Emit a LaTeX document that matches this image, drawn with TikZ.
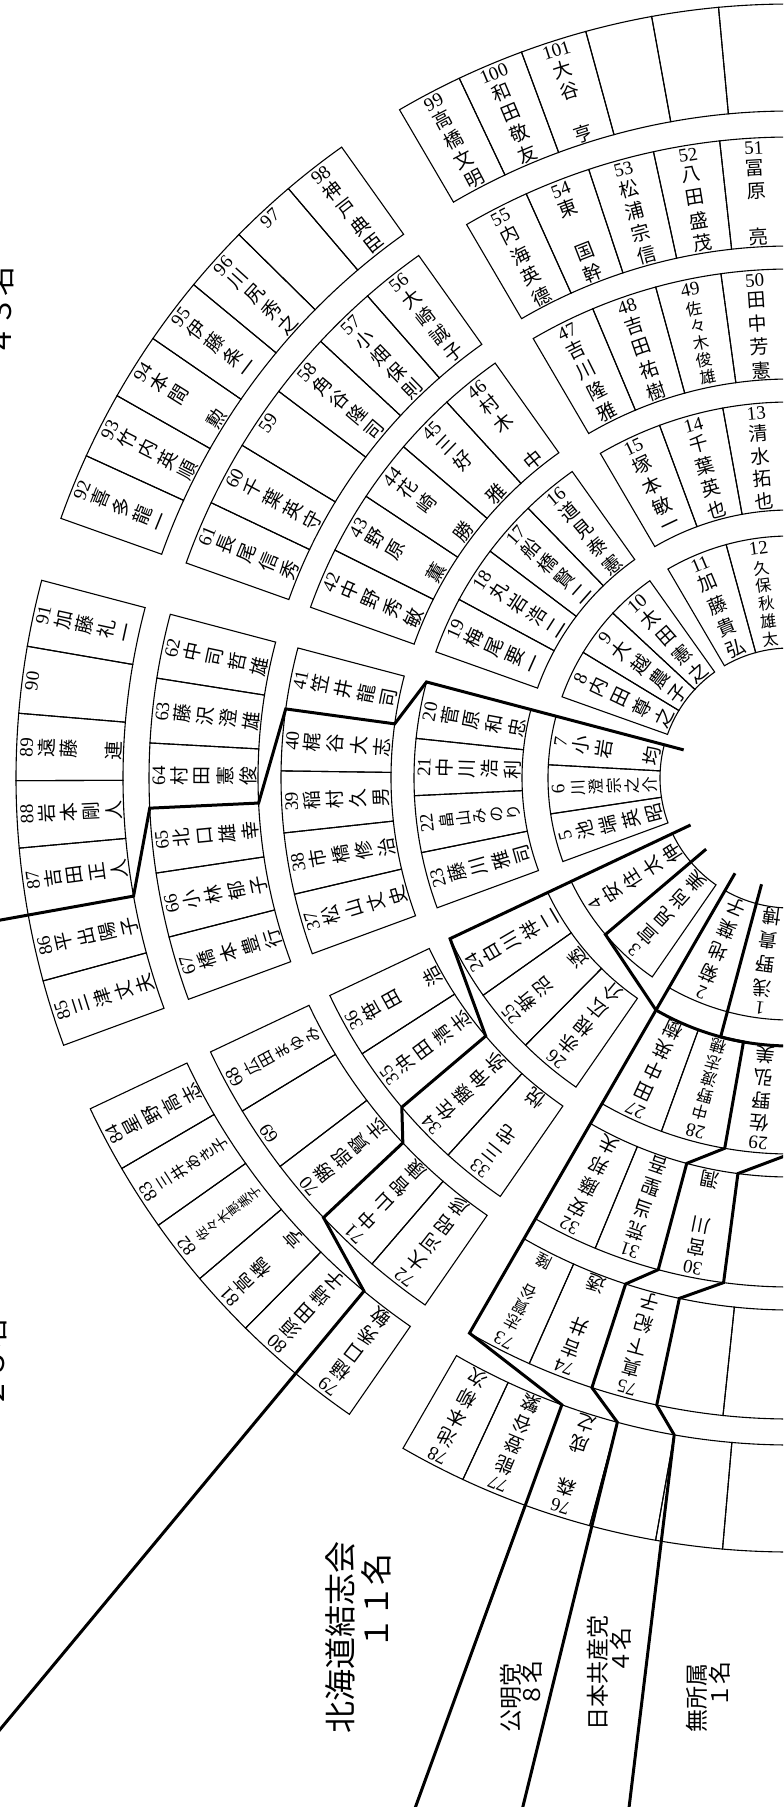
\documentclass[tikz,border=0pt]{standalone}
\usepackage{fontspec}
\usepackage{tikz}
\newfontfamily\jfont{Noto Sans CJK JP}
\newfontfamily\numfont{Liberation Serif}

\makeatletter
\newcount\nchar
\newcount\kchar
\newcommand{\seatname}[4]{%
  \nchar=0
  \@tfor\jch:=#4\do{\advance\nchar by 1}%
  \ifnum\nchar>1 \pgfmathsetmacro\pitch{(#3-#2-40)/(\the\nchar-1)}\else\def\pitch{0}\fi
  \ifnum\nchar>5 \def\jsize{6.6}\else\ifnum\nchar>4 \def\jsize{8}\else\def\jsize{9.5}\fi\fi
  \kchar=0
  \@tfor\jch:=#4\do{%
    \pgfmathsetmacro\rr{#3-30-\the\kchar*\pitch}%
    \node[namechar,rotate=#1-90,font=\jfont\fontsize{\jsize}{\jsize}\selectfont] at (#1:\rr) {\jch};%
    \advance\kchar by 1}%
}
\newcommand{\seatrow}[5]{%
  \foreach \sn/\sm [count=\si from 0] in {#5}{%
    \pgfmathsetmacro\angA{#1-\si*#2}%
    \pgfmathsetmacro\angB{#1-(\si+1)*#2}%
    \pgfmathsetmacro\angM{#1-(\si+0.5)*#2}%
    \pgfmathsetmacro\rNum{#4-10}%
    \draw[seatline] (\angA:#3) arc[start angle=\angA,end angle=\angB,radius=#3*0.5pt]
      -- (\angB:#4) arc[start angle=\angB,end angle=\angA,radius=#4*0.5pt] -- cycle;
    \node[seatno,rotate=\angM-90] (seat\sn) at (\angM:\rNum) {\sn};
    \edef\seatnext{\noexpand\seatname{\angM}{#3}{#4}{\sm}}\seatnext
  }}
\makeatother

\begin{document}
\begin{tikzpicture}[x=0.5pt,y=0.5pt,
  seatline/.style={draw,line width=0.55pt},
  party/.style={line width=1.5pt,line join=miter},
  seatno/.style={font=\numfont\fontsize{9.5}{9.5}\selectfont,inner sep=0pt},
  namechar/.style={inner sep=0pt},
  grouplabel/.style={font=\jfont\fontsize{11.5}{11.5}\selectfont,rotate=90,inner sep=0pt},
  biglabel/.style={font=\jfont\fontsize{16}{16}\selectfont,rotate=90,inner sep=0pt}]
\useasboundingbox (-790,-1029) rectangle (-7,778);
\fill[white] (-790,-1029) rectangle (-7,778);
\clip (-790,-1029) rectangle (-7,778);

\seatrow{120.3}{5}{667}{774}{99/高橋文明,100/和田敬友,101/大谷　亨,{}/{},{}/{},{}/{}}
\seatrow{120.3}{6}{532}{641}{55/内海英德,54/東　国幹,53/松浦宗信,52/八田盛茂,51/冨原　亮}
\seatrow{120.3}{7.5}{399}{509}{47/吉川隆雅,48/吉田祐樹,49/佐々木俊雄,50/田中芳憲}
\seatrow{120.3}{10}{268}{376}{15/塚本敏一,14/千葉英也,13/清水拓也}
\seatrow{120.3}{15}{130}{242}{11/加藤貴弘,12/久保秋雄太}

\seatrow{160.4}{5}{667}{774}{92/喜多龍一,93/竹内英順,94/本間　勲,95/伊藤条一,96/川尻秀之,97/{},98/神戸典臣}
\seatrow{160.4}{5.8333}{532}{641}{61/長尾信秀,60/千葉英守,59/{},58/角谷隆司,57/小畑保則,56/大崎誠子}
\seatrow{160.4}{7}{399}{509}{42/中野秀敏,43/野原　薫,44/花崎　勝,45/三好　雅,46/村木　中}
\seatrow{160.4}{8.75}{268}{376}{19/梅尾要一,18/丸岩浩二,17/船橋賢二,16/道見泰憲}
\seatrow{160.4}{11.6667}{130}{242}{8/内田尊之,9/大越農子,10/太田憲之}

\seatrow{200.2}{5}{667}{774}{85/三津丈夫,86/平出陽子,87/吉田正人,88/岩本剛人,89/遠藤　連,90/{},91/加藤礼一}
\seatrow{200.2}{5.8333}{532}{641}{67/橋本豊行,66/小林郁子,65/北口雄幸,64/村田憲俊,63/藤沢澄雄,62/中司哲雄}
\seatrow{200.2}{7}{399}{509}{37/松山丈史,38/市橋修治,39/稲村久男,40/梶谷大志,41/笠井龍司}
\seatrow{200.2}{8.75}{268}{376}{23/藤川雅司,22/畠山みのり,21/中川浩利,20/菅原和忠}
\seatrow{200.2}{11.6667}{130}{242}{5/池端英昭,6/川澄宗之介,7/小岩　均}

\seatrow{235.3}{5}{667}{774}{79/樋口秀敏,80/須田靖子,81/高橋　亨,82/佐々木恵美子,83/三井あき子,84/星野高志}
\seatrow{235.3}{6}{532}{641}{72/大河昭彦,71/中山智康,70/勝部賢志,69/{},68/広田まゆみ}
\seatrow{235.3}{7.5}{399}{509}{33/三宅　悦,34/佐藤伸弥,35/沖田清志,36/笹田　浩}
\seatrow{235.3}{10}{268}{376}{26/赤根広介,25/新沼　透,24/白川祥二}
\seatrow{235.3}{15}{130}{242}{3/宣見尚美,4/安住太伸}

\seatrow{270}{5}{667}{774}{{}/{},{}/{},{}/{},76/森　成之,77/能登谷繁,78/池本柳次}
\seatrow{270}{6}{532}{641}{{}/{},{}/{},75/真下紀子,74/吉井　透,73/志賀谷　隆}
\seatrow{270}{7.5}{399}{509}{{}/{},30/宮川　潤,31/荒当聖吾,32/安藤邦夫}
\seatrow{270}{10}{268}{376}{29/佐野弘美,28/中野渡志穂,27/田中英樹}
\seatrow{270}{15}{130}{242}{1/浅野貴博,2/菊地葉子}

\draw[party] (165.2:110) -- (165.2:376) -- (172.2:399) -- (172.2:509) -- (182.7:532) -- (182.7:641) -- (190.2:667) -- (190.2:900);
\draw[party] (205.3:110) -- (205.3:376) -- (220.3:399) -- (220.3:509) -- (223.3:532) -- (223.3:641) -- (230.3:667) -- (230.3:1400);
\draw[party] (220.3:110) -- (220.3:242) -- (240:268) -- (240:641) -- (250:667) -- (250:1200);
\draw[party] (240:110) -- (240:268) arc[start angle=240,end angle=260,radius=268*0.5pt] -- (260:376) -- (255:399) -- (255:509) -- (252:532) -- (252:641) -- (255:667) -- (255.5:1150);
\draw[party] (255:110) -- (255:268) arc[start angle=255,end angle=272,radius=268*0.5pt];
\draw[party] (270:376) -- (262.5:399) -- (262.5:509) -- (258:532) -- (258:641) -- (260:667) -- (261.3:1150);

\node[biglabel] (kessi) at (-450,-859) {北海道結志会};
\node[biglabel] (kessin) at (-414,-823) {１１名};
\node[grouplabel] (komei) at (-279,-920) {公明党};
\node[grouplabel] (komein) at (-258,-905) {８名};
\node[grouplabel] (kyosan) at (-192,-895) {日本共産党};
\node[grouplabel] (kyosann) at (-169,-872) {４名};
\node[grouplabel] (musho) at (-93,-920) {無所属};
\node[grouplabel] (mushon) at (-70,-906) {１名};
\node[biglabel,font=\jfont\fontsize{15}{15}\selectfont] (jimin) at (-790,466) {４３名};
\node[biglabel,font=\jfont\fontsize{15}{15}\selectfont] (minshu) at (-797,-585) {２３名};
\end{tikzpicture}
\end{document}
